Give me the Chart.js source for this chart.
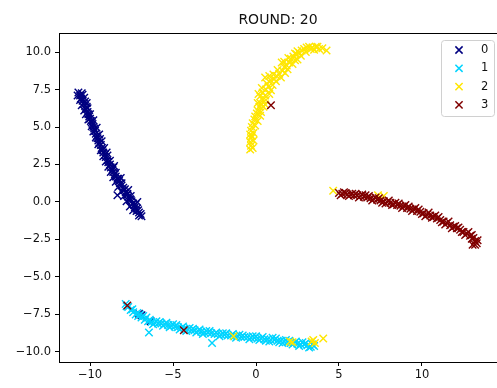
<!DOCTYPE html>
<html lang="en">
<head>
    <meta charset="UTF-8">
    <title>ROUND: 20</title>
    <script src="https://cdn.jsdelivr.net/npm/chart.js@4/dist/chart.umd.min.js"></script>
    <style>
        body { margin: 0; background: white; overflow: hidden; }
        #wrap { width: 497px; height: 388px; }
    </style>
</head>
<body>
    <div id="wrap"><canvas id="myChart" width="497" height="388"></canvas></div>
<script>
    // class labels and colours (jet colormap at 0, 1/3, 2/3, 1)
    let classes = ['0', '1', '2', '3'];
    let colors = ['#000080', '#00d4ff', '#ffe600', '#800000'];

    let xTicks = [-10, -5, 0, 5, 10];
    let xTickLabels = ['\u221210', '\u22125', '0', '5', '10'];
    let yTicks = [-10, -7.5, -5, -2.5, 0, 2.5, 5, 7.5, 10];
    let yTickLabels = ['\u221210.0', '\u22127.5', '\u22125.0', '\u22122.5', '0.0', '2.5', '5.0', '7.5', '10.0'];

    // points, [x, y]
    let class0 = [
        [-10.7,7.3],[-10.6,7.1],[-10.5,7.25],[-10.55,6.9],[-10.45,6.75],[-10.35,6.95],[-10.4,6.55],[-10.3,6.4],
        [-10.25,6.2],[-10.2,6.35],[-10.15,6.0],[-10.1,5.85],[-10.05,5.7],[-10.0,5.55],[-9.95,5.4],[-9.85,5.2],
        [-9.9,5.3],[-9.75,4.9],[-9.7,4.75],[-9.65,4.55],[-9.6,4.4],[-9.55,4.25],[-9.5,4.1],[-9.45,3.95],
        [-9.35,3.8],[-9.3,3.6],[-9.25,3.45],[-9.2,3.3],[-9.1,3.15],[-9.05,3.0],[-8.95,2.8],[-8.9,2.65],
        [-8.8,2.5],[-8.75,2.3],[-8.65,2.15],[-8.6,2.0],[-8.5,1.85],[-8.45,1.7],[-8.35,1.55],[-8.25,1.4],
        [-8.2,1.25],[-8.1,1.1],[-8.0,0.95],[-7.95,0.8],[-7.85,0.65],[-7.75,0.5],[-7.7,0.35],[-7.6,0.2],
        [-7.5,0.05],[-7.45,-0.1],[-7.35,-0.2],[-7.3,-0.35],[-7.2,-0.45],[-7.1,-0.55],[-7.05,-0.7],[-6.95,-0.8],
        [-6.9,-0.95],[-7.25,-0.15],[-7.55,0.4],[-8.35,0.45],[-10.2,6.6],[-9.8,5.0],[-9.4,4.2],[-9.0,3.3],
        [-8.55,2.4],[-8.15,1.6],[-7.7,0.8],[-7.15,0.0],[-7.05,-7.45],[-6.9,-7.55],[-6.35,-7.95],
        [-10.45,7.15],[-10.3,6.7],[-10.15,6.25],[-10.0,5.85],[-9.8,5.45],[-9.6,4.95],[-9.45,4.5],[-9.3,4.05],
        [-9.15,3.6],[-8.95,3.1],[-8.8,2.75],[-8.6,2.3],[-8.45,1.95],[-8.3,1.55],[-8.1,1.25],[-7.9,0.85],
        [-7.75,0.55],[-7.55,0.15],[-7.4,-0.1],[-7.2,-0.6],[-7.05,-0.9],
        [-10.75,7.1],[-10.6,6.8],[-10.5,6.45],[-10.35,6.1],[-10.25,5.85],[-10.1,5.5],[-9.9,5.05],[-9.8,4.7],
        [-9.65,4.3],[-9.5,3.85],[-9.35,3.45],[-9.2,3.05],[-9.05,2.7],[-8.9,2.35],[-8.75,2.0],[-8.6,1.65],
        [-8.45,1.35],[-8.3,1.0],[-8.1,0.7],[-7.95,0.4],[-7.8,0.05],[-7.6,-0.3],[-7.4,-0.55]
    ];
    let class1 = [
        [-7.85,-6.8],[-7.7,-7.0],[-7.55,-7.2],[-7.4,-7.35],[-7.25,-7.5],[-7.1,-7.6],[-6.9,-7.7],[-6.7,-7.85],
        [-6.5,-7.95],[-6.3,-8.0],[-6.1,-8.05],[-5.9,-8.1],[-5.7,-8.1],[-5.5,-8.15],[-5.3,-8.2],[-5.1,-8.25],
        [-4.9,-8.3],[-4.7,-8.35],[-4.5,-8.4],[-4.3,-8.45],[-4.1,-8.5],[-3.9,-8.55],[-3.7,-8.55],[-3.5,-8.6],
        [-3.3,-8.65],[-3.1,-8.7],[-2.9,-8.7],[-2.7,-8.75],[-2.5,-8.8],[-2.3,-8.8],[-2.1,-8.85],[-1.9,-8.85],
        [-1.7,-8.9],[-1.5,-8.9],[-1.3,-8.95],[-1.1,-8.95],[-0.9,-9.0],[-0.7,-9.0],[-0.5,-9.0],[-0.3,-9.05],
        [-0.1,-9.05],[0.1,-9.1],[0.3,-9.1],[0.5,-9.15],[0.7,-9.15],[0.9,-9.2],[1.1,-9.2],[1.3,-9.25],
        [1.5,-9.25],[1.7,-9.3],[1.9,-9.35],[2.1,-9.4],[2.3,-9.4],[2.5,-9.45],[2.7,-9.5],[2.9,-9.5],
        [3.1,-9.55],[3.3,-9.65],[3.4,-9.5],[-6.45,-8.7],[-2.65,-9.4],[-6.0,-7.95],[-5.0,-8.15],[-4.0,-8.4],
        [-3.0,-8.6],[-2.0,-8.75],[-1.0,-8.85],[0.0,-8.95],[1.0,-9.05],[2.0,-9.25],[2.8,-9.35],[-5.6,-8.25],
        [-4.6,-8.5],[-3.6,-8.7],[-0.4,-9.15],[0.6,-9.25],[1.6,-9.4],[-7.0,-7.5],[-6.6,-7.7],
        [-7.8,-6.95],[-7.45,-7.15],[-7.15,-7.4],[-6.8,-7.6],[-6.4,-7.85],[-6.2,-8.15],[-5.8,-8.0],[-5.4,-8.05],
        [-5.2,-8.35],[-4.8,-8.2],[-4.4,-8.3],[-4.2,-8.6],[-3.8,-8.45],[-3.4,-8.5],[-3.2,-8.8],[-2.8,-8.6],
        [-2.4,-8.7],[-2.2,-8.95],[-1.8,-8.75],[-1.4,-8.8],[-1.2,-9.05],[-0.8,-8.9],[-0.2,-8.95],[0.2,-9.2],
        [0.4,-9.0],[0.8,-9.3],[1.2,-9.1],[1.4,-9.35],[1.8,-9.2],[2.2,-9.5],[2.4,-9.3],[2.6,-9.6],
        [3.0,-9.4],[3.2,-9.7],[3.5,-9.6]
    ];
    let class2 = [
        [-0.35,3.5],[-0.3,3.75],[-0.35,4.0],[-0.3,4.25],[-0.35,4.5],[-0.3,4.75],[-0.25,5.0],[-0.2,5.25],
        [-0.25,4.4],[-0.1,5.5],[-0.05,5.7],[0.05,5.9],[0.1,6.1],[0.2,6.35],[0.3,6.55],[0.4,6.8],
        [0.25,7.05],[0.4,7.3],[0.55,7.1],[0.6,7.5],[0.75,7.7],[0.65,7.9],[0.55,8.3],[0.9,8.1],
        [1.0,7.8],[1.1,8.2],[1.25,8.4],[1.4,8.55],[1.5,8.3],[1.6,8.75],[1.7,9.0],[1.55,9.3],
        [1.85,9.1],[2.0,9.3],[2.1,9.55],[2.25,9.7],[2.35,9.45],[2.45,9.85],[2.6,9.95],[2.75,10.1],
        [2.9,10.2],[3.05,10.3],[3.2,10.35],[3.4,10.3],[3.6,10.35],[3.8,10.2],[4.25,10.1],[0.45,6.35],
        [-0.2,3.6],[-0.15,4.1],[-0.15,4.6],[-0.05,5.1],[0.1,5.4],[0.25,5.75],[0.3,6.0],[0.55,6.5],
        [0.6,6.8],[0.8,7.2],[0.9,7.45],[0.1,6.6],[0.15,7.2],[0.35,7.6],[0.8,8.4],[1.05,8.5],
        [1.3,8.8],[1.2,8.05],[1.75,8.6],[1.9,8.85],[2.2,9.2],[1.95,9.6],[2.5,9.5],[2.7,9.75],
        [2.5,10.05],[3.0,10.0],[3.3,10.2],[3.5,10.15],[3.7,10.35],[4.0,10.25],[2.35,9.9],[1.7,9.35],
        [4.65,0.75],[7.35,0.45],[7.7,0.4],[-1.35,-8.95],[2.05,-9.3],[2.2,-9.35],[3.45,-9.2],[3.55,-9.4],
        [4.05,-9.1],[3.35,-9.3]
    ];
    let class3 = [
        [5.0,0.6],[5.2,0.55],[5.4,0.6],[5.5,0.5],[5.7,0.5],[5.9,0.45],[6.1,0.45],[6.3,0.4],
        [6.5,0.35],[6.7,0.3],[6.9,0.25],[7.1,0.2],[7.3,0.15],[7.5,0.1],[7.7,0.05],[7.9,0.0],
        [8.1,-0.05],[8.3,-0.15],[8.5,-0.2],[8.7,-0.25],[8.9,-0.3],[9.1,-0.4],[9.3,-0.45],[9.5,-0.5],
        [9.7,-0.6],[9.9,-0.65],[10.1,-0.75],[10.3,-0.85],[10.5,-0.9],[10.7,-1.0],[10.9,-1.1],[11.1,-1.2],
        [11.3,-1.3],[11.5,-1.4],[11.7,-1.55],[11.9,-1.65],[12.1,-1.75],[12.3,-1.85],[12.5,-2.0],[12.7,-2.1],
        [12.9,-2.25],[13.1,-2.4],[13.2,-2.6],[13.3,-2.75],[13.05,-2.85],[5.6,0.4],[6.0,0.55],[6.6,0.45],
        [7.2,0.3],[7.8,-0.1],[8.4,-0.05],[9.0,-0.2],[9.6,-0.4],[10.2,-0.95],[10.8,-0.9],[11.4,-1.5],
        [12.0,-1.6],[12.6,-2.2],[13.0,-2.2],
        [5.1,0.45],[5.3,0.65],[5.8,0.55],[6.2,0.3],[6.4,0.5],[6.8,0.4],[7.0,0.1],[7.4,0.25],
        [7.6,-0.05],[8.0,0.1],[8.2,-0.2],[8.6,-0.1],[8.8,-0.4],[9.2,-0.3],[9.4,-0.6],[9.8,-0.5],
        [10.0,-0.8],[10.4,-0.7],[10.6,-1.05],[11.0,-1.0],[11.2,-1.35],[11.6,-1.3],[11.8,-1.75],[12.2,-1.7],
        [12.4,-2.0],[12.8,-2.0],[13.0,-2.45],[13.35,-2.55],[13.2,-2.85],
        [0.9,6.45],[-7.75,-6.9],[-4.35,-8.55]
    ];
    let series = [class0, class1, class2, class3];

    const FONT = '"DejaVu Sans", sans-serif';

    // title, top spine and legend box drawn on the canvas
    const decor = {
        id: 'decor',
        afterDraw(chart) {
            const ctx = chart.ctx;
            const a = chart.chartArea;
            ctx.save();
            ctx.strokeStyle = '#000';
            ctx.lineWidth = 1;
            ctx.beginPath();
            ctx.moveTo(a.left, a.top + 0.5);
            ctx.lineTo(a.right, a.top + 0.5);
            ctx.stroke();

            ctx.fillStyle = '#111';
            ctx.font = '14px ' + FONT;
            ctx.textAlign = 'center';
            ctx.textBaseline = 'middle';
            ctx.fillText('ROUND: 20', 278, 20);

            // legend
            const bx = 441.5, by = 40.5, bw = 53, bh = 76, r = 3;
            ctx.beginPath();
            ctx.roundRect(bx, by, bw, bh, r);
            ctx.fillStyle = 'rgba(255,255,255,0.8)';
            ctx.fill();
            ctx.strokeStyle = '#d0d0d0';
            ctx.stroke();
            ctx.font = '11.5px ' + FONT;
            ctx.textAlign = 'left';
            classes.forEach((c, i) => {
                const cy = 50 + i * 18.3;
                const cx = 459, h = 3.6;
                ctx.strokeStyle = colors[i];
                ctx.lineWidth = 1.5;
                ctx.beginPath();
                ctx.moveTo(cx - h, cy - h); ctx.lineTo(cx + h, cy + h);
                ctx.moveTo(cx - h, cy + h); ctx.lineTo(cx + h, cy - h);
                ctx.stroke();
                ctx.fillStyle = '#111';
                ctx.fillText(c, 481, cy);
            });
            ctx.restore();
        }
    };

    let myChart = document.getElementById('myChart').getContext('2d');
    let scatter = new Chart(myChart, {
        type: 'scatter',
        data: {
            datasets: series.map((pts, i) => ({
                label: classes[i],
                data: pts.map(p => ({ x: p[0], y: p[1] })),
                borderColor: colors[i],
                backgroundColor: colors[i],
                pointStyle: 'crossRot',
                pointRadius: 5.3,
                pointHoverRadius: 5.3,
                borderWidth: 1.4,
                order: 3 - i
            }))
        },
        options: {
            responsive: false,
            animation: false,
            events: [],
            layout: { autoPadding: false, padding: { top: 33, left: 0, right: 0, bottom: 0 } },
            plugins: {
                legend: { display: false },
                title: { display: false },
                tooltip: { enabled: false }
            },
            scales: {
                x: {
                    type: 'linear',
                    min: -11.87,
                    max: 14.52,
                    afterBuildTicks: axis => { axis.ticks = xTicks.map(v => ({ value: v })); },
                    afterFit: axis => { axis.height = 26; },
                    ticks: {
                        callback: v => xTickLabels[xTicks.indexOf(v)],
                        font: { family: FONT, size: 11.5 },
                        color: '#111',
                        padding: 2,
                        maxRotation: 0
                    },
                    grid: { drawOnChartArea: false, drawTicks: true, tickLength: 4, color: '#000' },
                    border: { color: '#000', width: 1 }
                },
                y: {
                    type: 'linear',
                    min: -10.67,
                    max: 11.27,
                    afterBuildTicks: axis => { axis.ticks = yTicks.map(v => ({ value: v })); },
                    afterFit: axis => { axis.width = 59; },
                    ticks: {
                        callback: v => yTickLabels[yTicks.indexOf(v)],
                        font: { family: FONT, size: 11.5 },
                        color: '#111',
                        padding: 4
                    },
                    grid: { drawOnChartArea: false, drawTicks: true, tickLength: 4, color: '#000' },
                    border: { color: '#000', width: 1 }
                }
            }
        },
        plugins: [decor]
    });
</script>
</body>
</html>
